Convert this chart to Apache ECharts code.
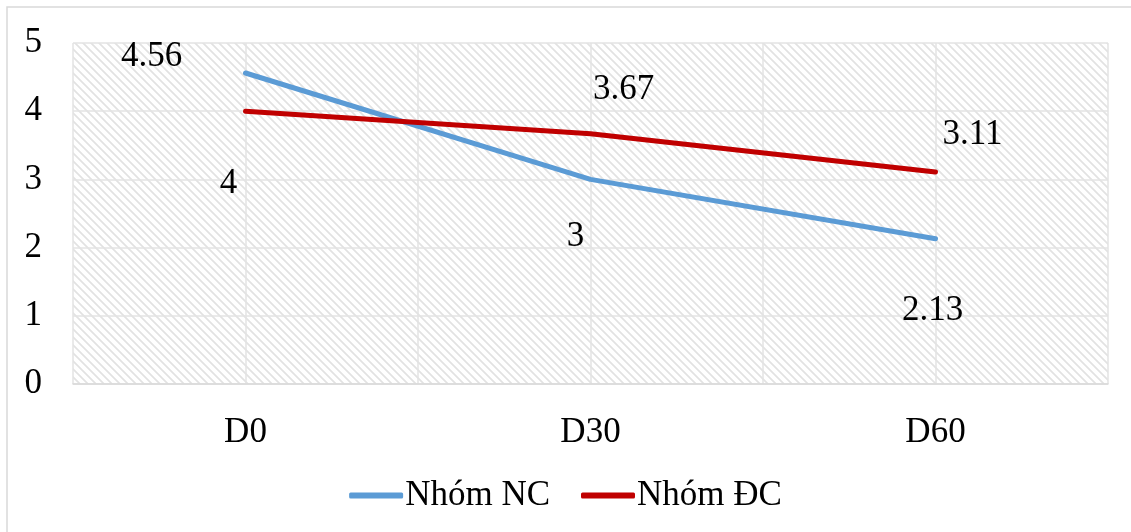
<!DOCTYPE html>
<html>
<head>
<meta charset="utf-8">
<script src="https://cdn.jsdelivr.net/npm/echarts@6/dist/echarts.min.js"></script>
<style>
  html, body { margin: 0; padding: 0; background: #fff; }
  #chart { width: 1131px; height: 532px; }
</style>
</head>
<body>
<div id="chart"></div>
<script>
// Time points and group means
const categories = ['D0', 'D30', 'D60'];
const seriesNames = ['Nhóm NC', 'Nhóm ĐC'];
const nhomNC = [4.56, 3, 2.13];
const nhomDC = [4, 3.67, 3.11];
const yTicks = [0, 1, 2, 3, 4, 5];

// Where each value label sits relative to its point (px)
const ncLabelOffsets = [[-94, -16], [-15, 57], [-3, 72]];
const dcLabelOffsets = [[-17, 73], [33, -44], [37, -37]];

const FONT = 'Liberation Serif, Times New Roman, serif';
const BLUE = '#5b9bd5';
const RED = '#c00000';

// Diagonal hatch tile for the plot background
function hatchTile() {
  const s = 8;
  const c = document.createElement('canvas');
  c.width = s; c.height = s;
  const g = c.getContext('2d');
  g.fillStyle = '#ffffff';
  g.fillRect(0, 0, s, s);
  g.strokeStyle = '#e2e2e2';
  g.lineWidth = 1.7;
  g.beginPath();
  g.moveTo(-s, 0); g.lineTo(s, 2 * s);
  g.moveTo(-s, -s); g.lineTo(2 * s, 2 * s);
  g.moveTo(0, -s); g.lineTo(2 * s, s);
  g.stroke();
  return c;
}

function withLabels(values, offsets) {
  return values.map((v, i) => ({
    value: v,
    label: { offset: offsets[i] }
  }));
}

const labelStyle = {
  show: true,
  position: 'inside',
  fontFamily: FONT,
  fontSize: 35,
  color: '#000'
};

const chart = echarts.init(document.getElementById('chart'), null, { renderer: 'canvas' });

chart.setOption({
  animation: false,
  backgroundColor: '#fff',
  textStyle: { fontFamily: FONT },
  graphic: [{
    type: 'rect',
    shape: { x: 7, y: 7, width: 1300, height: 700 },
    style: { fill: 'none', stroke: '#d9d9d9', lineWidth: 1.5 },
    silent: true,
    z: -1
  }],
  grid: {
    left: 73, right: 23, top: 43, bottom: 148,
    show: true,
    borderWidth: 0,
    backgroundColor: { image: hatchTile(), repeat: 'repeat' }
  },
  legend: {
    data: seriesNames.map((n, i) => ({ name: n, itemStyle: { color: i ? RED : BLUE } })),
    icon: 'roundRect',
    left: 'center',
    top: 473,
    itemWidth: 54,
    itemHeight: 6,
    itemGap: 31,
    textStyle: { fontFamily: FONT, fontSize: 35, color: '#000', padding: [0, 0, 0, -3] }
  },
  xAxis: [{
    type: 'category',
    data: categories,
    boundaryGap: true,
    axisLine: { show: true, lineStyle: { color: '#d9d9d9', width: 1.5 } },
    axisTick: { show: false },
    splitLine: { show: false },
    axisLabel: { fontFamily: FONT, fontSize: 35, color: '#000', margin: 31 }
  }, {
    // half-category grid: lines at every category edge and centre
    type: 'category',
    data: categories.flatMap(c => [c + '-a', c + '-b']),
    boundaryGap: true,
    position: 'bottom',
    axisLine: { show: false },
    axisTick: { show: false },
    axisLabel: { show: false },
    splitLine: { show: true, lineStyle: { color: '#e3e3e3', width: 1.5 } }
  }],
  yAxis: {
    type: 'value',
    min: yTicks[0],
    max: yTicks[yTicks.length - 1],
    interval: 1,
    axisLine: { show: false },
    axisTick: { show: false },
    splitLine: { show: true, lineStyle: { color: '#e3e3e3', width: 1.5 } },
    axisLabel: { fontFamily: FONT, fontSize: 35, color: '#000', margin: 31 }
  },
  series: [{
    name: seriesNames[0],
    type: 'line',
    xAxisIndex: 0,
    data: withLabels(nhomNC, ncLabelOffsets),
    color: BLUE,
    lineStyle: { color: BLUE, width: 5, cap: 'round', join: 'round' },
    symbol: 'circle',
    symbolSize: 1,
    showSymbol: true,
    itemStyle: { color: BLUE },
    label: labelStyle,
    z: 3
  }, {
    name: seriesNames[1],
    type: 'line',
    xAxisIndex: 0,
    data: withLabels(nhomDC, dcLabelOffsets),
    color: RED,
    lineStyle: { color: RED, width: 5, cap: 'round', join: 'round' },
    symbol: 'circle',
    symbolSize: 1,
    showSymbol: true,
    itemStyle: { color: RED },
    label: labelStyle,
    z: 4
  }]
});
</script>
</body>
</html>
